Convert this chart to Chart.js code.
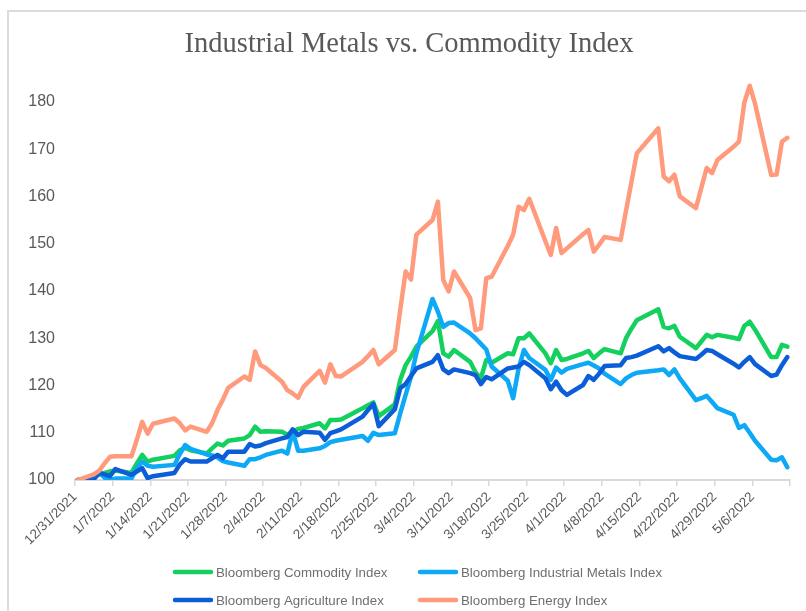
<!DOCTYPE html>
<html>
<head>
<meta charset="utf-8">
<script src="https://cdn.jsdelivr.net/npm/chart.js@4.4.1/dist/chart.umd.min.js"></script>
<style>
  html, body { margin: 0; padding: 0; background: #fff; overflow: hidden; }
  #frame { position: absolute; left: 7px; top: 10px; width: 900px; height: 700px;
           border: 2px solid #dcdcdc; pointer-events: none; }
  #chart { position: absolute; left: 0; top: 0; }
</style>
</head>
<body>
<canvas id="chart" width="806" height="611"></canvas>
<div id="frame"></div>
<script>
// trading days (US holidays left out)
const dates = [
    '12/31/2021',
    '1/3/2022', '1/4/2022', '1/5/2022', '1/6/2022', '1/7/2022',
    '1/10/2022', '1/11/2022', '1/12/2022', '1/13/2022', '1/14/2022',
    '1/18/2022', '1/19/2022', '1/20/2022', '1/21/2022',
    '1/24/2022', '1/25/2022', '1/26/2022', '1/27/2022', '1/28/2022',
    '1/31/2022', '2/1/2022', '2/2/2022', '2/3/2022', '2/4/2022',
    '2/7/2022', '2/8/2022', '2/9/2022', '2/10/2022', '2/11/2022',
    '2/14/2022', '2/15/2022', '2/16/2022', '2/17/2022', '2/18/2022',
    '2/22/2022', '2/23/2022', '2/24/2022', '2/25/2022',
    '2/28/2022', '3/1/2022', '3/2/2022', '3/3/2022', '3/4/2022',
    '3/7/2022', '3/8/2022', '3/9/2022', '3/10/2022', '3/11/2022',
    '3/14/2022', '3/15/2022', '3/16/2022', '3/17/2022', '3/18/2022',
    '3/21/2022', '3/22/2022', '3/23/2022', '3/24/2022', '3/25/2022',
    '3/28/2022', '3/29/2022', '3/30/2022', '3/31/2022', '4/1/2022',
    '4/4/2022', '4/5/2022', '4/6/2022', '4/7/2022', '4/8/2022',
    '4/11/2022', '4/12/2022', '4/13/2022', '4/14/2022',
    '4/18/2022', '4/19/2022', '4/20/2022', '4/21/2022', '4/22/2022',
    '4/25/2022', '4/26/2022', '4/27/2022', '4/28/2022', '4/29/2022',
    '5/2/2022', '5/3/2022', '5/4/2022', '5/5/2022', '5/6/2022',
    '5/9/2022', '5/10/2022', '5/11/2022', '5/12/2022'
];

const commodity = [
    100,
    100.6, 101.2, 101.5, 101.8, 102.0,
    101.5, 103.5, 105.3, 103.9, 104.3,
    105.1, 106.3, 106.8, 106.3,
    105.6, 106.7, 107.7, 107.3, 108.3,
    108.8, 109.5, 111.3, 110.2, 110.3,
    110.2, 109.6, 110.2, 110.8, 111.0,
    112.0, 110.9, 112.7, 112.7, 112.8,
    115.2, 115.8, 116.4, 113.5,
    116.0, 121.2, 124.3, 126.1, 128.2,
    131.5, 133.6, 126.8, 126.1, 127.5,
    125.0, 122.8, 121.5, 125.4, 124.8,
    126.8, 126.6, 130.0, 130.0, 131.0,
    126.8, 124.7, 127.5, 125.4, 125.6,
    126.8, 127.3, 125.8, 126.8, 127.7,
    126.8, 130.0, 132.0, 133.8,
    136.1, 132.4, 132.1, 132.6, 130.3,
    127.9, 129.3, 130.7, 130.2, 130.7,
    130.1, 129.8, 132.6, 133.5, 131.8,
    126.0, 126.0, 128.6, 128.2
];

const metals = [
    100,
    100.2, 101.6, 100.5, 100.0, 100.3,
    100.3, 102.5, 103.9, 103.0, 102.8,
    103.2, 105.5, 107.4, 106.6,
    105.4, 105.2, 104.8, 104.0, 103.7,
    103.0, 104.4, 104.4, 104.8, 105.3,
    106.2, 105.6, 110.3, 106.2, 106.2,
    106.7, 107.2, 108.0, 108.3, 108.5,
    109.3, 108.3, 110.0, 109.5,
    109.9, 114.1, 118.0, 121.8, 126.8,
    138.3, 135.6, 132.4, 133.2, 133.3,
    131.0, 130.0, 128.8, 127.6, 124.0,
    121.0, 117.3, 123.5, 127.5, 125.8,
    123.3, 121.2, 123.8, 122.7, 123.5,
    124.5, 124.8, 124.2, 123.6, 122.5,
    120.3, 121.5, 122.2, 122.7,
    123.2, 123.4, 122.2, 123.4, 121.5,
    116.9, 117.3, 117.8, 116.5, 115.2,
    113.8, 111.0, 111.6, 110.0, 108.3,
    104.3, 104.2, 104.8, 102.7
];

const agriculture = [
    100,
    100.2, 101.5, 101.2, 100.8, 102.3,
    101.1, 101.8, 102.5, 100.4, 100.8,
    101.5, 103.3, 104.4, 103.9,
    103.9, 104.6, 105.3, 104.6, 106.0,
    106.0, 107.6, 107.1, 107.3, 107.8,
    108.8, 109.1, 110.7, 109.5, 110.2,
    110.0, 108.5, 109.9, 110.3, 110.7,
    113.4, 114.8, 116.1, 111.4,
    115.0, 119.4, 120.3, 122.0, 123.6,
    125.0, 126.4, 123.4, 122.6, 123.4,
    122.6, 122.2, 120.3, 121.8, 121.3,
    123.6, 123.8, 124.0, 125.0, 124.3,
    121.5, 119.2, 120.8, 119.0, 118.0,
    120.1, 122.0, 121.2, 122.5, 124.1,
    124.3, 125.8, 126.0, 126.3,
    128.3, 127.2, 127.9, 127.0, 126.2,
    125.6, 126.5, 127.5, 127.3, 126.6,
    124.6, 123.8, 125.0, 126.0, 124.5,
    122.0, 122.3, 124.3, 126.0
];

const energy = [
    100,
    101.2, 102.0, 103.5, 104.9, 105.0,
    105.0, 108.5, 112.3, 109.8, 111.9,
    113.0, 112.0, 110.5, 111.3,
    110.2, 112.0, 114.8, 117.0, 119.5,
    121.9, 121.2, 127.2, 124.3, 123.7,
    120.8, 119.0, 118.3, 117.4, 119.7,
    123.1, 120.6, 124.5, 122.0, 121.9,
    125.0, 126.2, 127.5, 124.5,
    127.5, 136.0, 144.1, 142.4, 151.9,
    155.0, 158.9, 142.3, 139.9, 144.1,
    138.5, 131.7, 132.1, 142.7, 143.0,
    149.5, 151.9, 157.8, 157.1, 159.5,
    150.5, 147.6, 153.3, 148.0, 149.0,
    152.0, 152.9, 148.3, 149.8, 151.4,
    150.8, 157.0, 163.0, 169.1,
    174.4, 164.2, 163.2, 164.6, 160.0,
    157.5, 161.8, 166.0, 164.9, 167.7,
    170.5, 171.6, 179.8, 183.4, 179.6,
    164.5, 164.6, 171.6, 172.4
];

const xTickLabels = ['12/31/2021', '1/7/2022', '1/14/2022', '1/21/2022', '1/28/2022', '2/4/2022',
    '2/11/2022', '2/18/2022', '2/25/2022', '3/4/2022', '3/11/2022', '3/18/2022', '3/25/2022',
    '4/1/2022', '4/8/2022', '4/15/2022', '4/22/2022', '4/29/2022', '5/6/2022', ''];
const yTicks = [100, 110, 120, 130, 140, 150, 160, 170, 180];

// days since 12/31/2021, each point in the middle of its day
const start = Date.UTC(2021, 11, 31);
function dayPos(s) {
    const p = s.split('/');
    return (Date.UTC(+p[2], +p[0] - 1, +p[1]) - start) / 864e5 + 0.5;
}
function toPoints(values) {
    return values.map((v, i) => ({ x: dayPos(dates[i]), y: v }));
}

const sansFont = '"Liberation Sans", Arial, sans-serif';

const lineStyle = {
    borderWidth: 4.5,
    pointRadius: 0,
    tension: 0,
    borderJoinStyle: 'round',
    borderCapStyle: 'round',
    fill: false
};

// two column legend like the original
const gridLegend = {
    id: 'gridLegend',
    afterDraw(chart) {
        const ctx = chart.ctx;
        ctx.save();
        ctx.font = '13.3px ' + sansFont;
        ctx.textBaseline = 'middle';
        ctx.lineCap = 'round';
        chart.data.datasets.forEach((ds, i) => {
            const x = i % 2 ? 420 : 175;
            const y = i < 2 ? 572 : 600;
            ctx.strokeStyle = ds.borderColor;
            ctx.lineWidth = 4.5;
            ctx.beginPath();
            ctx.moveTo(x, y);
            ctx.lineTo(x + 36, y);
            ctx.stroke();
            ctx.fillStyle = '#6e6e6e';
            ctx.fillText(ds.label, x + 41, y + 1);
        });
        ctx.restore();
    }
};

const ctxMetals = document.getElementById('chart').getContext('2d');
const metalsChart = new Chart(ctxMetals, {
    type: 'line',
    data: {
        datasets: [
            Object.assign({ label: 'Bloomberg Commodity Index', data: toPoints(commodity), borderColor: '#14D05F', order: 4 }, lineStyle),
            Object.assign({ label: 'Bloomberg Industrial Metals Index', data: toPoints(metals), borderColor: '#0EA9F6', order: 3 }, lineStyle),
            Object.assign({ label: 'Bloomberg Agriculture Index', data: toPoints(agriculture), borderColor: '#0B5ED8', order: 2 }, lineStyle),
            Object.assign({ label: 'Bloomberg Energy Index', data: toPoints(energy), borderColor: '#FF9B7C', order: 1 }, lineStyle)
        ]
    },
    options: {
        responsive: false,
        animation: false,
        layout: {
            padding: { left: 28, right: 16, top: 13, bottom: 0 }
        },
        scales: {
            x: {
                type: 'linear',
                min: 0,
                max: 133,
                afterBuildTicks: function(axis) {
                    axis.ticks = xTickLabels.map((t, i) => ({ value: i * 7 }));
                },
                afterFit: function(axis) {
                    axis.height = 131;
                },
                ticks: {
                    autoSkip: false,
                    maxRotation: 45,
                    minRotation: 45,
                    padding: 3,
                    color: '#595959',
                    font: { family: sansFont, size: 13.5 },
                    callback: function(value, index) {
                        return xTickLabels[index];
                    }
                },
                grid: {
                    display: true,
                    drawOnChartArea: false,
                    drawTicks: true,
                    tickLength: 6,
                    color: '#d9d9d9',
                    lineWidth: 1.5
                },
                border: {
                    display: true,
                    color: '#d9d9d9',
                    width: 2
                }
            },
            y: {
                min: 100,
                max: 185,
                afterBuildTicks: function(axis) {
                    axis.ticks = yTicks.map(v => ({ value: v }));
                },
                afterFit: function(axis) {
                    axis.width = 47;
                },
                ticks: {
                    padding: 20,
                    color: '#595959',
                    font: { family: sansFont, size: 16 }
                },
                grid: {
                    display: false,
                    drawTicks: false
                },
                border: {
                    display: false
                }
            }
        },
        plugins: {
            title: {
                display: true,
                text: 'Industrial Metals vs. Commodity Index',
                color: '#595959',
                font: { family: '"Liberation Serif", "Times New Roman", serif', size: 28.5, weight: 'normal' },
                padding: { top: 14, bottom: 17 }
            },
            legend: {
                display: false
            },
            tooltip: {
                enabled: false
            }
        }
    },
    plugins: [gridLegend]
});
</script>
</body>
</html>
